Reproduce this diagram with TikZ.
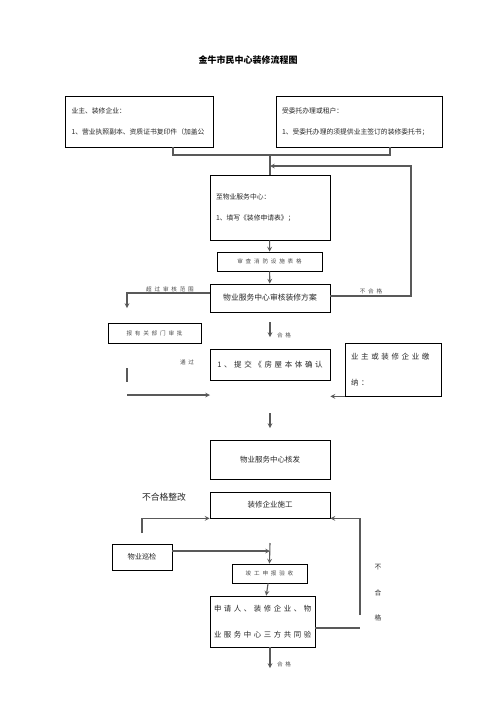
\documentclass[tikz,border=0pt]{standalone}
\usepackage{fontspec}
\newfontfamily\cjk{Noto Sans CJK SC}
\newfontfamily\cjkwide{Noto Sans CJK SC}[LetterSpace=35]
\newfontfamily\cjknote{Noto Sans CJK SC}[LetterSpace=50]
\usetikzlibrary{positioning}
\tikzset{
  box/.style={draw,line width=0.8pt,inner xsep=6pt,inner ysep=0pt},
  txt/.style={font=\cjk\fontsize{6.8}{21}\selectfont,text=black!85},
  widetxt/.style={font=\cjkwide\fontsize{7.5}{26}\selectfont,text=black!85},
  note/.style={font=\cjknote\fontsize{5.6}{7}\selectfont,text=black!70},
  wire/.style={draw=black!65,line width=1.1pt},
}
\begin{document}
\begin{tikzpicture}[x=1pt,y=-1pt,>=stealth]
  \useasboundingbox[fill=white] (0,0) rectangle (496,702);
  \node[font=\cjk\bfseries\fontsize{9}{11}\selectfont] (title) at (248,60) {金牛市民中心装修流程图};

  % applicants
  \node[box,txt,minimum width=145pt,minimum height=51pt,text width=136pt,align=left] (owner) at (139.5,121.5) {业主、装修企业：\\1、营业执照副本、资质证书复印件（加盖公};
  \node[box,txt,minimum width=164pt,minimum height=51pt,text width=154pt,align=left] (tenant) at (359,121.5) {受委托办理或租户：\\1、受委托办理的须提供业主签订的装修委托书；};
  \coordinate (jl) at (173,155);
  \coordinate (jr) at (390,155);
  \coordinate (jm) at (270,155);
  \draw[wire] (owner.south -| jl) -- (jl) -- (jr) -- (tenant.south -| jr);

  \node[box,txt,minimum width=120pt,minimum height=65pt,text width=108pt,align=left] (apply) at (270,207.5) {至物业服务中心：\\1、填写《装修申请表》；};
  \draw[wire] (jm) -- (apply.north);
  \node[box,note,minimum width=105pt,minimum height=19pt] (fire) at (269.5,261.5) {审查消防设施表格};
  \node[box,font=\cjk\fontsize{7.8}{10}\selectfont,text=black!85,minimum width=120pt,minimum height=28pt] (review) at (270,298) {物业服务中心审核装修方案};
  \draw[wire,->] (apply) -- (fire);
  \draw[wire,->] (fire) -- (review);

  % review outcomes
  \coordinate (lt) at (127,293);
  \coordinate (ltend) at (127,308);
  \draw[wire,->] (review.west |- lt) -- (lt) -- (ltend);
  \node[note] (over) at (170,289) {超过审核范围};
  \coordinate (rt) at (411,296);
  \coordinate (rtop) at (411,166);
  \draw[wire,->] (review.east |- rt) -- (rt) -- (rtop) -- (rtop -| jm);
  \node[note] (fail1) at (371,291) {不合格};

  \node[box,note,minimum width=93pt,minimum height=20pt] (dept) at (154.5,333) {报有关部门审批};
  \coordinate (pa) at (127,368);
  \coordinate (pb) at (127,382);
  \draw[wire] (pa) -- (pb);
  \node[note] (pass) at (187,362) {通过};
  \coordinate (pc) at (127,395);
  \coordinate (pd) at (210,395);
  \draw[wire,->] (pc) -- (pd);

  \coordinate (ok1a) at (270,322);
  \coordinate (ok1b) at (270,337);
  \draw[wire,->] (ok1a) -- (ok1b);
  \node[note] (ok1) at (284,335) {合格};

  \node[box,widetxt,minimum width=120pt,minimum height=31pt] (confirm) at (270,364.5) {1、提交《房屋本体确认};
  \node[box,widetxt,minimum width=96pt,minimum height=53pt,text width=84pt,align=left] (pay) at (393,369.5) {业主或装修企业缴\\纳：};
  \draw[wire,->] (pay.south west) -- (pay.south west -| confirm.east);

  \coordinate (ia) at (270,413);
  \coordinate (ib) at (270,428);
  \draw[wire,->] (ia) -- (ib);
  \node[box,font=\cjk\fontsize{7.5}{10}\selectfont,text=black!85,minimum width=120pt,minimum height=39pt] (issue) at (270,459.5) {物业服务中心核发};

  % construction and acceptance
  \node[font=\cjk\fontsize{8.8}{10}\selectfont,text=black!85] (redo) at (164,497) {不合格整改};
  \node[box,font=\cjk\fontsize{7.5}{10}\selectfont,text=black!85,minimum width=120pt,minimum height=26pt] (build) at (270,505) {装修企业施工};
  \coordinate (bl) at (142,533);
  \draw[wire,->] (bl) -- (bl |- build.south) -- (build.south west);
  \coordinate (br) at (360,615);
  \draw[wire,->] (br) -- (br |- build.south) -- (build.south east);

  \node[box,font=\cjk\fontsize{7.2}{10}\selectfont,text=black!85,minimum width=60pt,minimum height=26pt] (patrol) at (142,557) {物业巡检};
  \coordinate (pj) at (270,551);
  \draw[wire,->] (patrol.east |- pj) -- (pj);
  \coordinate (vtop) at (270,543);
  \node[box,note,minimum width=75pt,minimum height=19pt] (finish) at (269.5,573.5) {竣工申报验收};
  \draw[wire,->] (vtop) -- (finish.north);

  \node[box,font=\cjkwide\fontsize{7.4}{26}\selectfont,text=black!85,minimum width=105pt,minimum height=51pt,text width=97pt,align=left,inner xsep=4pt] (accept) at (262.5,621.5) {申请人、装修企业、物\\业服务中心三方共同验};
  \draw[wire,->] (finish) -- (accept);
  \coordinate (ae) at (360,628);
  \draw[wire] (accept.east |- ae) -- (ae);
  \node[font=\cjk\fontsize{6.8}{25.5}\selectfont,text=black!80,align=center] (fail2) at (378,593) {不\\合\\格};

  \coordinate (okend) at (270,668);
  \draw[wire,->] (accept.south -| okend) -- (okend);
  \node[note] (ok2) at (284,664) {合格};
\end{tikzpicture}
\end{document}
